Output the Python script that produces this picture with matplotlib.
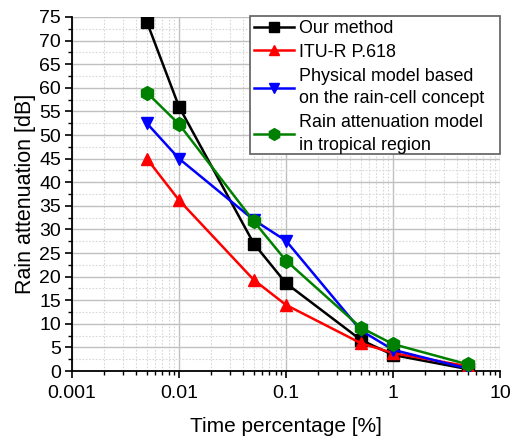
import matplotlib
matplotlib.use("Agg")
import matplotlib.pyplot as plt
from matplotlib.patches import Rectangle
from matplotlib.ticker import LogLocator, MultipleLocator, FixedLocator, NullFormatter

plt.rcParams['font.family'] = ['Liberation Sans', 'DejaVu Sans']

time_pct = [0.005, 0.01, 0.05, 0.1, 0.5, 1, 5]
our_method = [74.0, 56.0, 27.0, 18.6, 6.6, 3.4, 0.4]
itu_r = [45.0, 36.2, 19.3, 14.0, 5.9, 3.8, 1.0]
physical = [52.5, 45.0, 32.0, 27.6, 8.6, 4.5, 0.5]
tropical = [59.0, 52.3, 31.7, 23.4, 9.2, 5.7, 1.4]

labels = ["Our method", "ITU-R P.618",
          "Physical model based\non the rain-cell concept",
          "Rain attenuation model\nin tropical region"]

W, H = 517, 440
fig = plt.figure(figsize=(W / 100, H / 100), dpi=100)
ax = fig.add_axes([72 / W, 1 - 371 / H, 428 / W, 354 / H])

ax.plot(time_pct, our_method, color='black', marker='s', ms=8, lw=1.8, label=labels[0], zorder=3)
ax.plot(time_pct, itu_r, color='#ff0000', marker='^', ms=9, lw=1.8, label=labels[1], zorder=3)
ax.plot(time_pct, physical, color='#0000ff', marker='v', ms=9, lw=1.8, label=labels[2], zorder=3)
ax.plot(time_pct, tropical, color='#008000', marker='h', ms=10, lw=1.8, label=labels[3], zorder=3)

ax.set_xscale('log')
ax.set_xlim(0.001, 10)
ax.set_ylim(0, 75)
ax.xaxis.set_major_locator(FixedLocator([0.001, 0.01, 0.1, 1, 10]))
ax.set_xticklabels(['0.001', '0.01', '0.1', '1', '10'])
ax.xaxis.set_minor_locator(LogLocator(base=10, subs=range(2, 10)))
ax.xaxis.set_minor_formatter(NullFormatter())
ax.yaxis.set_major_locator(MultipleLocator(5))
ax.yaxis.set_minor_locator(MultipleLocator(2.5))

ax.grid(which='major', color='#c0c0c0', lw=1.0, ls='-', zorder=0)
ax.grid(which='minor', color='#d8d8d8', lw=0.8, ls=(0, (1.5, 1.5)), zorder=0)
ax.set_axisbelow(True)

for side in ('top', 'right'):
    ax.spines[side].set_visible(False)
for side in ('left', 'bottom'):
    ax.spines[side].set_linewidth(1.3)

ax.tick_params(which='major', direction='out', length=5, width=1.2, labelsize=14)
ax.tick_params(axis='x', which='major', pad=5)
ax.tick_params(axis='y', which='major', pad=3)
ax.tick_params(which='minor', direction='out', length=3, width=1.0)

ax.set_xlabel('Time percentage [%]', fontsize=15, labelpad=11)
ax.set_ylabel('Rain attenuation [dB]', fontsize=15.5, labelpad=2)

# legend box: white panel with a thin grey frame, text set flush left inside it
box_x0, box_x1, box_top, box_bot = 250, 500, 16, 154
frame = Rectangle((box_x0 / W, 1 - box_bot / H), (box_x1 - box_x0) / W, (box_bot - box_top) / H,
                  transform=fig.transFigure, facecolor='white', edgecolor='#6a6a6a',
                  lw=1.3, zorder=4)
ax.add_patch(frame)
frame.set_clip_on(False)

leg = ax.legend(loc='upper left', bbox_to_anchor=(box_x0 / W, 1 - box_top / H),
                bbox_transform=fig.transFigure, fontsize=12.9, frameon=False,
                borderpad=0.22, labelspacing=0.38, handlelength=2.25, handletextpad=0.28,
                borderaxespad=0, markerscale=0.85)
leg.set_zorder(5)
for t in leg.get_texts():
    t.set_linespacing(1.45)

fig.savefig('out.png', dpi=100)
